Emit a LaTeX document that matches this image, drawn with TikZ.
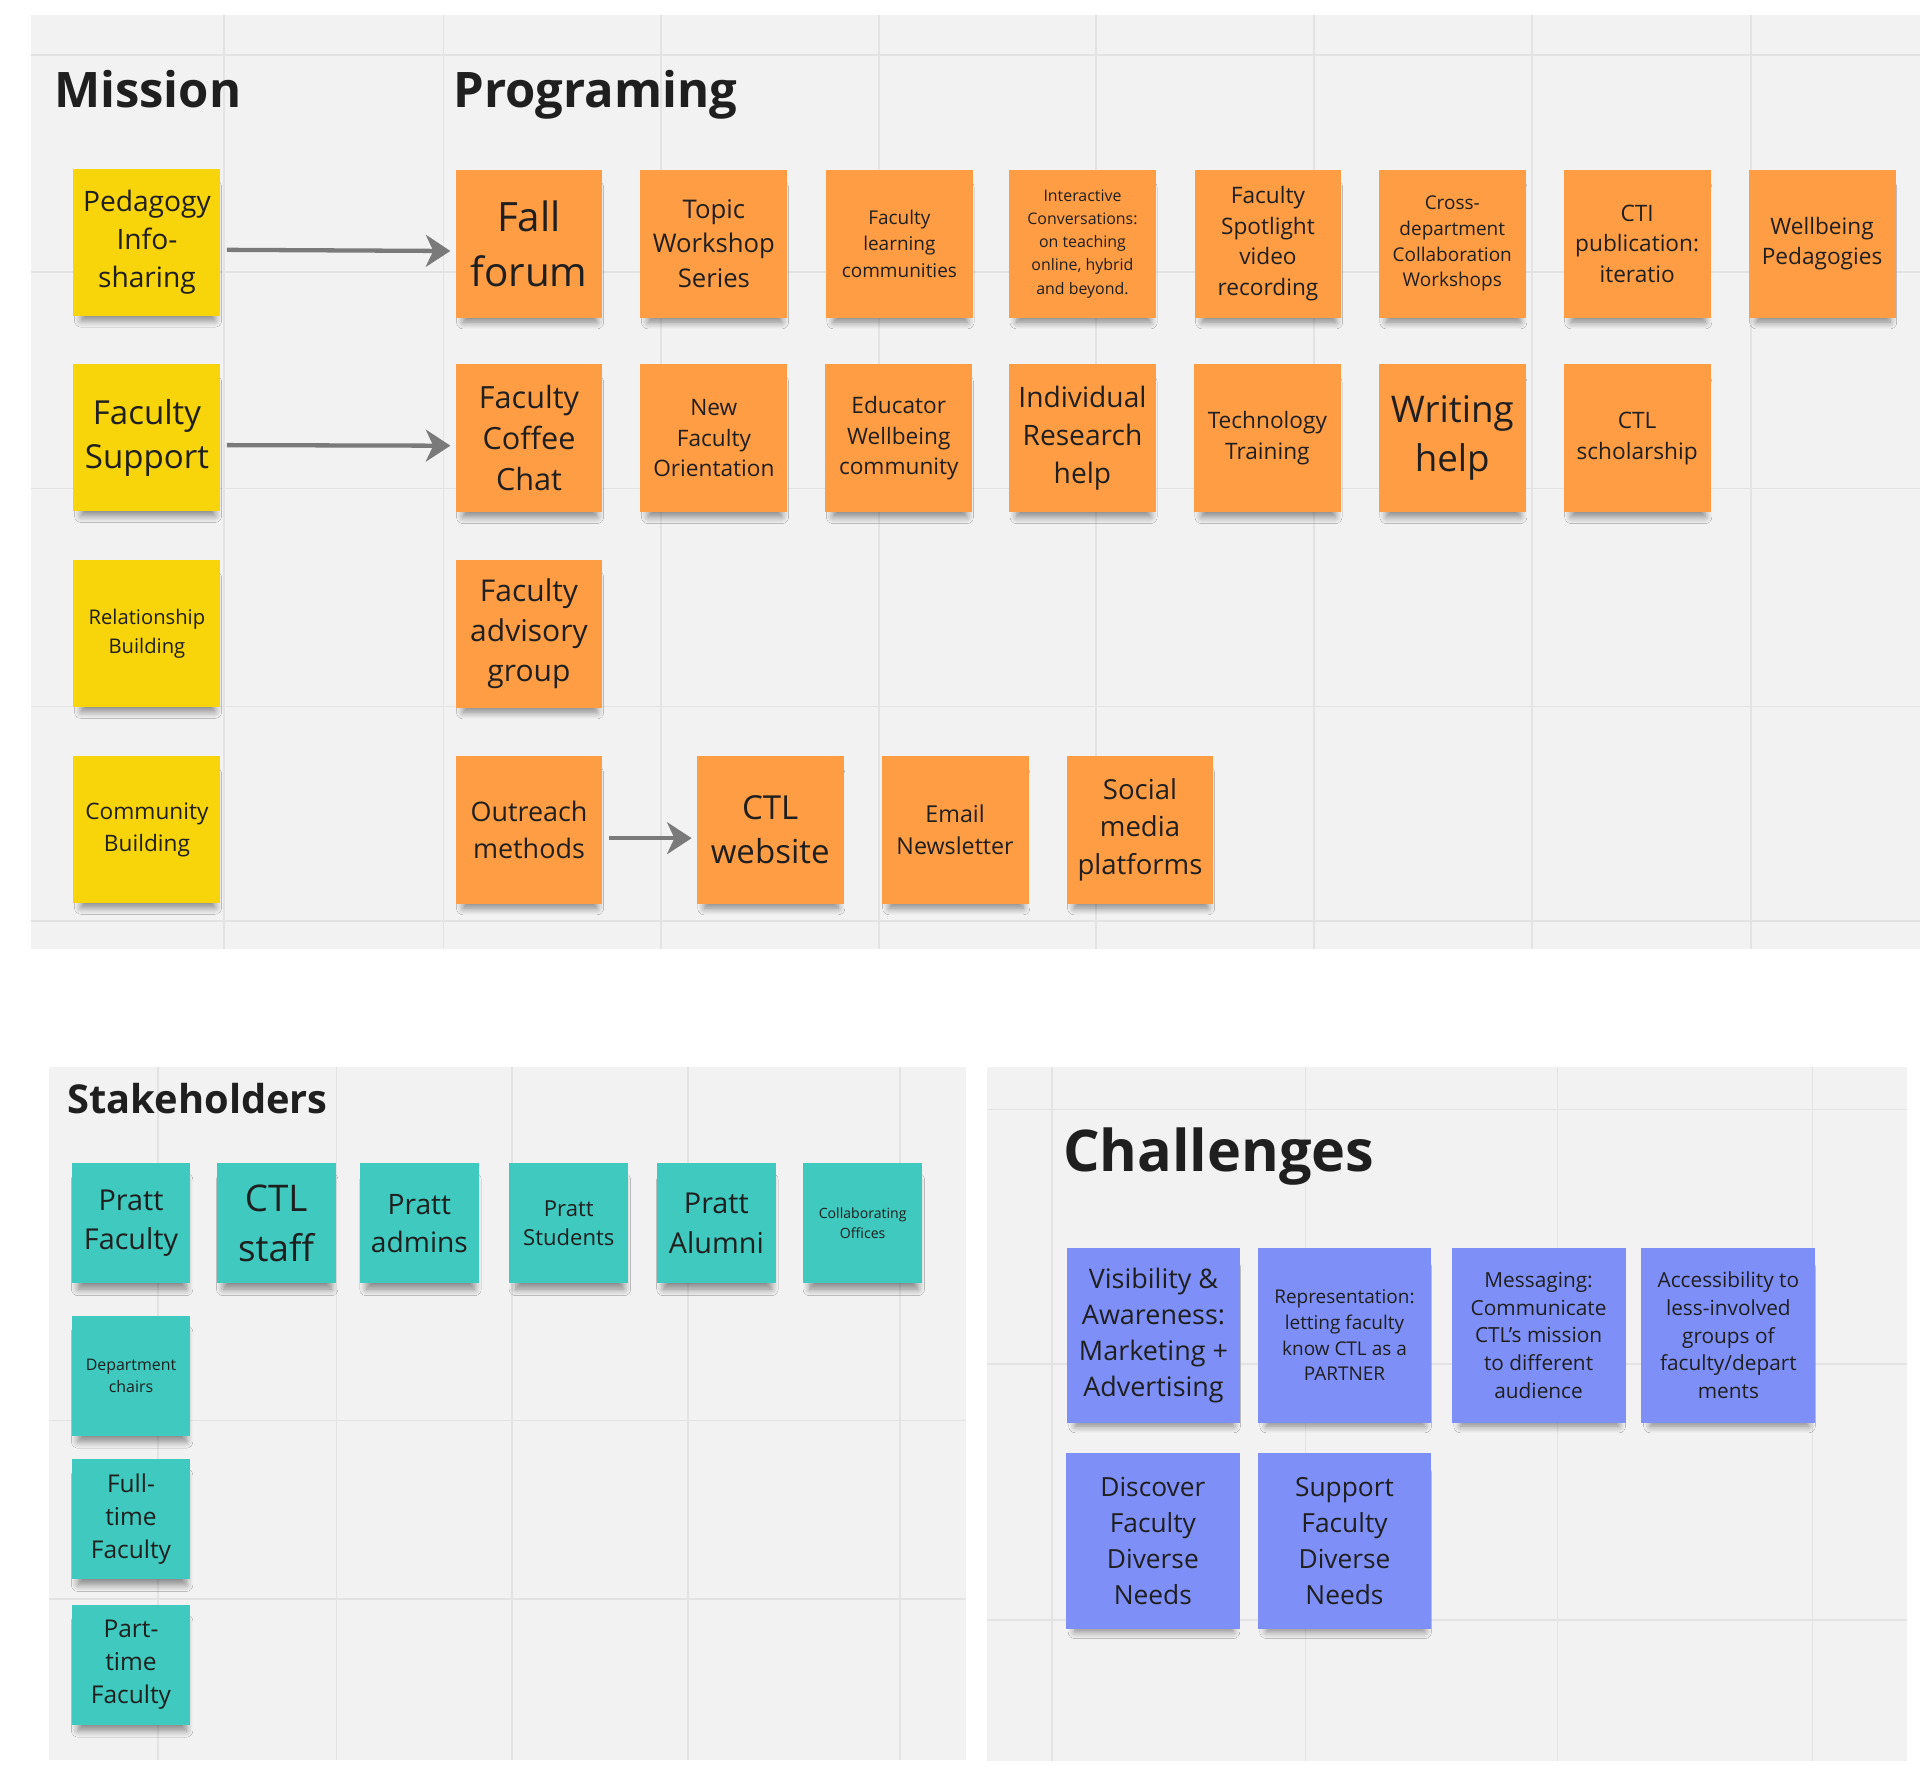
\documentclass[tikz,border=0pt]{standalone}
\usepackage{fontspec}
\setmainfont{Open Sans}
\usepackage{xcolor}
\usepackage{tikz}
\usetikzlibrary{arrows.meta, positioning, shadows.blur}

\definecolor{board}{HTML}{F2F2F2}
\definecolor{gridln}{HTML}{E3E3E3}
\definecolor{stickyyellow}{HTML}{F8D40A}
\definecolor{stickyorange}{HTML}{FF9D45}
\definecolor{stickyteal}{HTML}{3FC9BF}
\definecolor{stickyblue}{HTML}{7E90F8}
\definecolor{arrowgray}{HTML}{7A7A7A}
\definecolor{inktext}{HTML}{1F1F1F}

\newcommand{\notefont}[2]{\fontsize{#1}{#2}\selectfont}

\begin{document}
\begin{tikzpicture}[x=1pt, y=-1pt,
	sticky/.style={shape=rectangle, inner sep=0pt, align=center, text=inktext,
		blur shadow={shadow xshift=1pt, shadow yshift=-10pt, shadow scale=0.91, shadow opacity=45, shadow blur radius=6pt, shadow blur steps=8}},
	mission/.style={sticky, fill=stickyyellow, minimum width=120pt, minimum height=120pt},
	program/.style={sticky, fill=stickyorange, minimum width=120pt, minimum height=121pt},
	holder/.style={sticky, fill=stickyteal, minimum width=97pt, minimum height=98pt},
	challenge/.style={sticky, fill=stickyblue, minimum width=142pt, minimum height=143pt},
	heading/.style={anchor=base west, inner sep=0pt, text=inktext, font=\bfseries},
	gridline/.style={draw=gridln, line width=1.2pt},
	flow/.style={draw=arrowgray, line width=3.5pt, -{Stealth[length=20pt, width=26pt, inset=6pt]}, shorten <=5pt, shorten >=4pt}]
	\useasboundingbox (0, 0) rectangle (1568, 1451);
	\fill[white] (0, 0) rectangle (1568, 1451);
	% Boards:
	\fill[board] (25, 12) rectangle (1568, 775);
	\draw[gridline] (183, 12) -- (183, 775) (362, 12) -- (362, 775) (540, 12) -- (540, 775) (718, 12) -- (718, 775)
		(895, 12) -- (895, 775) (1073, 12) -- (1073, 775) (1251, 12) -- (1251, 775) (1430, 12) -- (1430, 775)
		(25, 45) -- (1568, 45) (25, 222) -- (1568, 222) (25, 399) -- (1568, 399) (25, 577) -- (1568, 577) (25, 752) -- (1568, 752);
	\fill[board] (40, 871) rectangle (789, 1437);
	\draw[gridline] (129, 871) -- (129, 1437) (275, 871) -- (275, 1437) (418, 871) -- (418, 1437) (562, 871) -- (562, 1437) (735, 871) -- (735, 1437)
		(40, 1160) -- (789, 1160) (40, 1306) -- (789, 1306);
	\fill[board] (806, 871) rectangle (1557, 1438);
	\draw[gridline] (859, 871) -- (859, 1438) (1066, 871) -- (1066, 1438) (1272, 871) -- (1272, 1438) (1480, 871) -- (1480, 1438)
		(806, 906) -- (1557, 906) (806, 1114) -- (1557, 1114) (806, 1323) -- (1557, 1323);
	% Headings:
	\node[heading, font=\bfseries\notefont{40}{48}] (missiontitle) at (44, 88){Mission};
	\node[heading, font=\bfseries\notefont{40}{48}] (programtitle) at (370, 88){Programing};
	\node[heading, font=\bfseries\notefont{32.5}{40}] (holdertitle) at (55, 909){Stakeholders};
	\node[heading, font=\bfseries\notefont{47}{55}] (challengetitle) at (868, 957){Challenges};
	% Mission notes:
	\node[mission, font=\notefont{23}{31}] (pedagogy) at (120, 198){Pedagogy\\Info-\\sharing};
	\node[mission, font=\notefont{27}{36}] (support) at (120, 357.5){Faculty\\Support};
	\node[mission, font=\notefont{16.5}{23}] (relation) at (120, 517.5){Relationship\\Building};
	\node[mission, font=\notefont{18.5}{26}] (community) at (120, 677.5){Community\\Building};
	% Programing notes:
	\node[program, font=\notefont{33}{45}] (fallforum) at (432, 199){Fall\\forum};
	\node[program, font=\notefont{21}{28.5}] (topicws) at (583, 199){Topic\\Workshop\\Series};
	\node[program, font=\notefont{15.5}{21.5}] (learncomm) at (734.5, 199){Faculty\\learning\\communities};
	\node[program, font=\notefont{13}{19}] (interconv) at (884, 199){Interactive\\Conversations:\\on teaching\\online, hybrid\\and beyond.};
	\node[program, font=\notefont{18.5}{25}] (spotlight) at (1035.5, 199){Faculty\\Spotlight\\video\\recording};
	\node[program, font=\notefont{15.5}{21}] (crossdept) at (1186, 199){Cross-\\department\\Collaboration\\Workshops};
	\node[program, font=\notefont{18.5}{25}] (ctipub) at (1337, 199){CTI\\publication:\\iteratio};
	\node[program, font=\notefont{18.5}{25}] (wellped) at (1488, 199){Wellbeing\\Pedagogies};
	\node[program, font=\notefont{25}{33.5}] (coffeechat) at (432, 358){Faculty\\Coffee\\Chat};
	\node[program, font=\notefont{18.5}{25}] (newfac) at (583, 358){New\\Faculty\\Orientation};
	\node[program, font=\notefont{18.5}{25}] (eduwell) at (734, 358){Educator\\Wellbeing\\community};
	\node[program, font=\notefont{23}{31}] (research) at (884, 358){Individual\\Research\\help};
	\node[program, font=\notefont{18.5}{25}] (techtrain) at (1035, 358){Technology\\Training};
	\node[program, font=\notefont{30}{40}] (writing) at (1186, 358){Writing\\help};
	\node[program, font=\notefont{18.5}{25}] (ctlschol) at (1337, 358){CTL\\scholarship};
	\node[program, font=\notefont{24.5}{33}] (advisory) at (432, 517.5){Faculty\\advisory\\group};
	\node[program, font=\notefont{22}{30}] (outreach) at (432, 677.5){Outreach\\methods};
	\node[program, font=\notefont{27}{36}] (website) at (629, 677.5){CTL\\website};
	\node[program, font=\notefont{19}{26}] (newsletter) at (780, 677.5){Email\\Newsletter};
	\node[program, font=\notefont{22.5}{30.5}] (socialmedia) at (931, 677.5){Social\\media\\platforms};
	% Stakeholder notes:
	\node[holder, font=\notefont{23.5}{32}] (prattfac) at (107, 999){Pratt\\Faculty};
	\node[holder, font=\notefont{30}{41}] (ctlstaff) at (225.5, 999){CTL\\staff};
	\node[holder, font=\notefont{23}{31}] (admins) at (342.5, 999){Pratt\\admins};
	\node[holder, font=\notefont{18}{24}] (students) at (464.5, 999){Pratt\\Students};
	\node[holder, font=\notefont{23.5}{32}] (alumni) at (585, 999){Pratt\\Alumni};
	\node[holder, font=\notefont{11.5}{16.5}] (offices) at (704.5, 999){Collaborating\\Offices};
	\node[holder, font=\notefont{13}{18}] (chairs) at (107, 1123.5){Department\\chairs};
	\node[holder, font=\notefont{20}{27}] (fulltime) at (107, 1240.5){Full-\\time\\Faculty};
	\node[holder, font=\notefont{20}{27}] (parttime) at (107, 1359.5){Part-\\time\\Faculty};
	% Challenge notes:
	\node[challenge, font=\notefont{22}{29.5}] (visibility) at (942, 1090.5){Visibility \&\\Awareness:\\Marketing +\\Advertising};
	\node[challenge, font=\notefont{15.5}{21}] (represent) at (1098, 1090.5){Representation:\\letting faculty\\know CTL as a\\PARTNER};
	\node[challenge, font=\notefont{17}{22.75}] (messaging) at (1256.5, 1090.5){Messaging:\\Communicate\\CTL's mission\\to different\\audience};
	\node[challenge, font=\notefont{17}{22.75}] (access) at (1411.5, 1090.5){Accessibility to\\less-involved\\groups of\\faculty/depart\\ments};
	\node[challenge, font=\notefont{21.5}{29.3}] (discover) at (941.5, 1258.5){Discover\\Faculty\\Diverse\\Needs};
	\node[challenge, font=\notefont{21.5}{29.3}] (supportneeds) at (1098, 1258.5){Support\\Faculty\\Diverse\\Needs};
	% Arrows:
	\draw[flow] ([yshift=-6pt]pedagogy.east) -- ([yshift=-6pt]fallforum.west);
	\draw[flow] ([yshift=-6pt]support.east) -- ([yshift=-6pt]coffeechat.west);
	\draw[flow] ([yshift=-7pt]outreach.east) -- ([yshift=-7pt]website.west);
\end{tikzpicture}
\end{document}
